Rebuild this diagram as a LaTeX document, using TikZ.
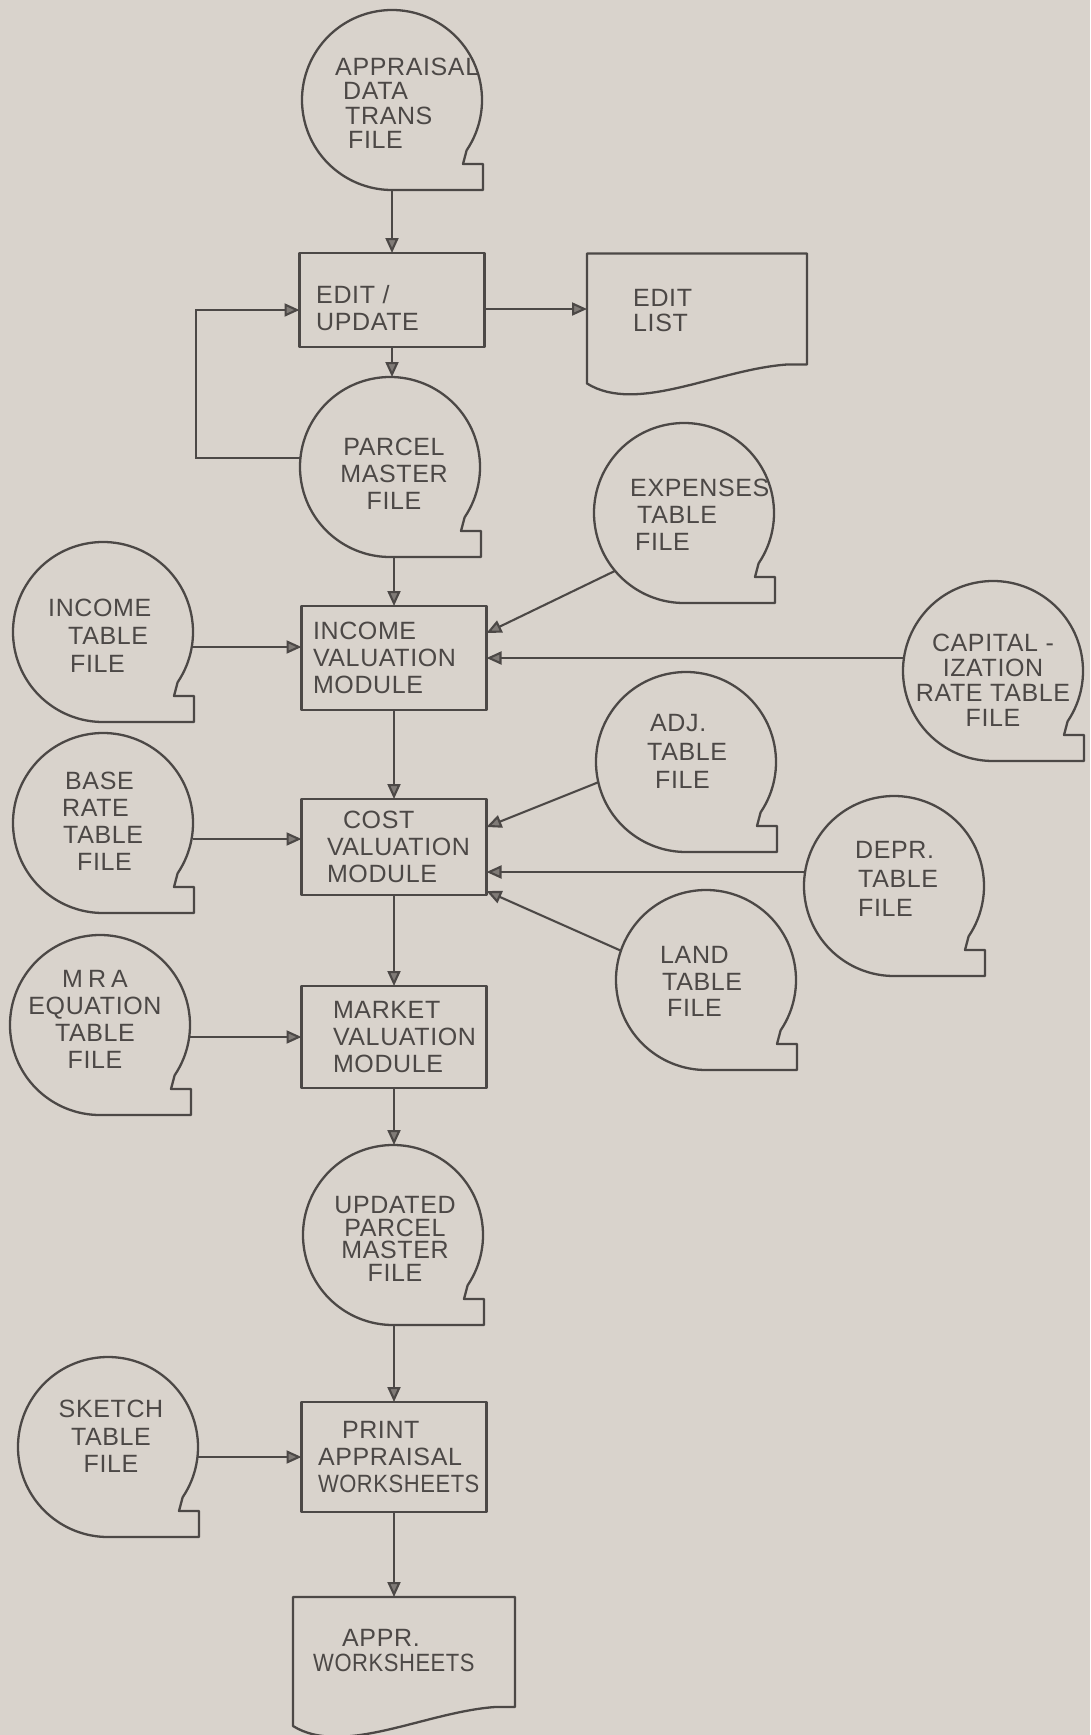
\documentclass[tikz,border=0pt]{standalone}
\usepackage{fontspec}
\setmainfont{Liberation Sans}[LetterSpace=2.5]
\usetikzlibrary{arrows.meta,calc}

\definecolor{paper}{RGB}{217,211,204}
\definecolor{ink}{RGB}{76,72,70}
\definecolor{headfill}{RGB}{128,123,119}

\tikzset{
  outline/.style={draw=ink, line width=2.3pt, line join=round},
  flow/.style={draw=ink, line width=2.1pt,
    -{Triangle[length=15pt,width=13pt,fill=headfill]}},
  lettering/.style={text=ink, font=\fontsize{25}{27}\selectfont, inner sep=0pt},
  tapespot/.style={circle, minimum size=180pt, inner sep=0pt, outer sep=0pt},
  procbox/.style={rectangle, outline, lettering, align=left,
    minimum width=185pt, inner sep=0pt, outer sep=0pt},
  docspot/.style={rectangle, minimum width=220pt, minimum height=111pt,
    inner sep=0pt, outer sep=0pt},
}

% narrow setting for the long word
\newcommand\narrowword[1]{\scalebox{0.88}[1]{#1}}

% magnetic tape symbol: circle with the tail at the lower right
\newcommand\tapeoutline[1]{%
  \draw[outline] ([shift={(-34:90pt)}]#1.center)
    arc[start angle=-34, end angle=270, radius=90pt]
    -- ++(91pt,0) -- ++(0,26pt) -- ++(-20pt,0) -- cycle;}

% printed document symbol: box with a wavy lower edge
\newcommand\docoutline[1]{%
  \draw[outline] (#1.south east) -- (#1.north east) -- (#1.north west)
    -- (#1.south west) -- ++(0,-19pt)
    .. controls +(50pt,-31pt) and +(-70pt,-5pt) .. ($(#1.south east)+(-20pt,0)$)
    -- cycle;}

\begin{document}
\begin{tikzpicture}[x=1pt,y=-1pt]
\fill[paper] (0,0) rectangle (1090,1735);
\useasboundingbox (0,0) rectangle (1090,1735);

% ---------- main column ----------
\node[tapespot] (appraisal) at (392,100) {};
\node[lettering, anchor=west, align=left, font=\fontsize{25}{24.5}\selectfont]
  (appraisal-t) at (335,103.5)
  {APPRAISAL\\\hspace*{8pt}DATA\\\hspace*{10pt}TRANS\\\hspace*{13pt}FILE};
\tapeoutline{appraisal}

\node[procbox, minimum height=94pt] (edit) at (392,300) {};
\node[lettering, anchor=west, align=left] (edit-t) at (316,308.5) {EDIT /\\UPDATE};

\node[docspot] (editlist) at (697,309) {};
\node[lettering, anchor=west, align=left, font=\fontsize{25}{25}\selectfont]
  (editlist-t) at (633,310.5) {EDIT\\LIST};
\docoutline{editlist}

\node[tapespot] (parcel) at (390,467) {};
\node[lettering, align=center] (parcel-t) at (394,474) {PARCEL\\MASTER\\FILE};
\tapeoutline{parcel}

\node[procbox, minimum height=104pt, text width=162pt] (income) at (394,658)
  {INCOME\\VALUATION\\MODULE};
\node[procbox, minimum height=96pt, text width=134pt] (cost) at (394,847)
  {\hspace*{16pt}COST\\VALUATION\\MODULE};
\node[procbox, minimum height=102pt, text width=122pt] (market) at (394,1037)
  {MARKET\\VALUATION\\MODULE};

\node[tapespot] (updated) at (393,1235) {};
\node[lettering, align=center, font=\fontsize{25}{22.7}\selectfont]
  (updated-t) at (395,1239) {UPDATED\\PARCEL\\MASTER\\FILE};
\tapeoutline{updated}

\node[procbox, minimum height=110pt, text width=152pt] (print) at (394,1457)
  {\hspace*{24pt}PRINT\\APPRAISAL\\\narrowword{WORKSHEETS}};

\node[docspot, minimum width=222pt, minimum height=110pt] (apprdoc) at (404,1652) {};
\node[lettering, anchor=west, align=left, font=\fontsize{25}{25}\selectfont]
  (apprdoc-t) at (313,1650.5) {\hspace*{29pt}APPR.\\\narrowword{WORKSHEETS}};
\docoutline{apprdoc}

% ---------- table files on the left ----------
\node[tapespot] (intape) at (103,632) {};
\node[lettering, anchor=west, align=left, font=\fontsize{25}{28}\selectfont]
  (intape-t) at (48,636) {INCOME\\\hspace*{20pt}TABLE\\\hspace*{22pt}FILE};
\tapeoutline{intape}

\node[tapespot] (base) at (103,823) {};
\node[lettering, anchor=west, align=left] (base-t) at (62,821)
  {\hspace*{3pt}BASE\\RATE\\\hspace*{1pt}TABLE\\\hspace*{15pt}FILE};
\tapeoutline{base}

\node[tapespot] (mra) at (100,1025) {};
\node[lettering, align=center] (mra-t) at (95,1019.5)
  {M\kern5pt R\kern5pt A\\EQUATION\\TABLE\\FILE};
\tapeoutline{mra}

\node[tapespot] (sketch) at (108,1447) {};
\node[lettering, align=center, font=\fontsize{25}{27.5}\selectfont]
  (sketch-t) at (111,1436.5) {SKETCH\\TABLE\\FILE};
\tapeoutline{sketch}

% ---------- table files on the right ----------
\node[tapespot] (expenses) at (684,513) {};
\node[lettering, anchor=west, align=left] (expenses-t) at (630,515)
  {EXPENSES\\\hspace*{7pt}TABLE\\\hspace*{5pt}FILE};
\tapeoutline{expenses}

\node[tapespot] (cap) at (993,671) {};
\node[lettering, align=center, font=\fontsize{25}{25}\selectfont]
  (cap-t) at (993,680.5) {CAPITAL -\\IZATION\\RATE TABLE\\FILE};
\tapeoutline{cap}

\node[tapespot] (adj) at (686,762) {};
\node[lettering, anchor=west, align=left, font=\fontsize{25}{28.5}\selectfont]
  (adj-t) at (647,751.5) {\hspace*{3pt}ADJ.\\TABLE\\\hspace*{8pt}FILE};
\tapeoutline{adj}

\node[tapespot] (depr) at (894,886) {};
\node[lettering, anchor=west, align=left, font=\fontsize{25}{29}\selectfont]
  (depr-t) at (855,879) {DEPR.\\\hspace*{3pt}TABLE\\\hspace*{3pt}FILE};
\tapeoutline{depr}

\node[tapespot] (land) at (706,980) {};
\node[lettering, anchor=west, align=left, font=\fontsize{25}{26.5}\selectfont]
  (land-t) at (660,981.5) {LAND\\\hspace*{2pt}TABLE\\\hspace*{7pt}FILE};
\tapeoutline{land}

% ---------- connectors ----------
\draw[flow] (edit.north |- appraisal.south) -- (edit.north);
\draw[flow] (edit.east |- editlist.west) -- (editlist.west);
\draw[flow] (edit.south) -- (edit.south |- parcel.north);

\coordinate (editin) at ($(edit.west)+(0,10)$);
\coordinate (loopcorner) at (196,310);
\draw[flow] (parcel.174) -| (loopcorner) -- (editin);

\draw[flow] (parcel.south -| income.north) -- (income.north);
\draw[flow] (expenses.220) -- ($(income.east)+(0,-25)$);
\draw[flow] (cap.west |- income.east) -- (income.east);
\coordinate (incL) at ($(income.west)+(0,-11)$);
\draw[flow] (intape.east |- incL) -- (incL);

\draw[flow] (income.south) -- (cost.north);
\draw[flow] (adj.193) -- ($(cost.east)+(0,-20)$);
\coordinate (costR) at ($(cost.east)+(0,25)$);
\draw[flow] (depr.west |- costR) -- (costR);
\draw[flow] (land.161) -- ($(cost.east)+(0,44)$);
\coordinate (costL) at ($(cost.west)+(0,-8)$);
\draw[flow] (base.east |- costL) -- (costL);

\draw[flow] (cost.south) -- (market.north);
\draw[flow] (mra.east |- market.west) -- (market.west);
\draw[flow] (market.south) -- (market.south |- updated.north);
\draw[flow] (updated.south -| print.north) -- (print.north);
\draw[flow] (sketch.east |- print.west) -- (print.west);
\draw[flow] (print.south) -- (print.south |- apprdoc.north);
\end{tikzpicture}
\end{document}
